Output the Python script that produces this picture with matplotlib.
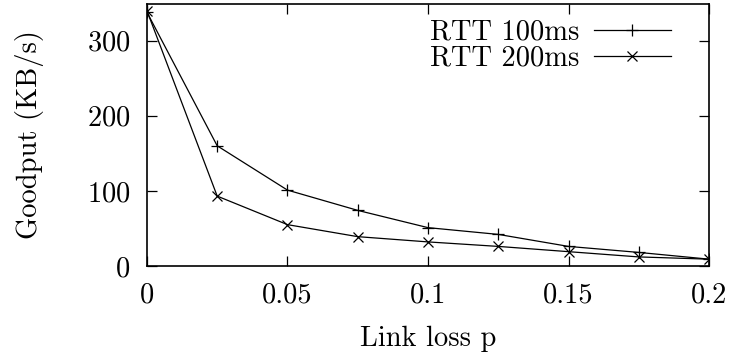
import matplotlib
matplotlib.use('Agg')
import matplotlib.pyplot as plt

# link loss probability
loss = [0, 0.025, 0.05, 0.075, 0.1, 0.125, 0.15, 0.175, 0.2]
# goodput in KB/s
rtt100 = [338, 160, 101, 74, 51, 42, 26, 18, 9]
rtt200 = [340, 93, 55, 39, 32, 26, 19, 12, 9]

xticks = [0, 0.05, 0.1, 0.15, 0.2]
xticklabels = ['0', '0.05', '0.1', '0.15', '0.2']
yticks = [0, 100, 200, 300]

plt.rcParams['font.family'] = ['cmr10', 'DejaVu Serif']
plt.rcParams['axes.formatter.use_mathtext'] = True
plt.rcParams['font.size'] = 20.5

fig = plt.figure(figsize=(7.31, 3.56), dpi=100)
ax = fig.add_axes([0.201, 0.253, 0.769, 0.736])

ax.plot(loss, rtt100, color='black', lw=0.9, marker='+', ms=9, mew=0.9, label='RTT 100ms')
ax.plot(loss, rtt200, color='black', lw=0.9, marker='x', ms=7, mew=0.9, label='RTT 200ms')

ax.set_xlim(0, 0.2)
ax.set_ylim(0, 349)
ax.set_xticks(xticks)
ax.set_xticklabels(xticklabels)
ax.set_yticks(yticks)
ax.tick_params(direction='in', length=7, width=0.9, top=True, right=True, pad=12)
for s in ax.spines.values():
    s.set_linewidth(1.2)

ax.set_xlabel('Link loss p', labelpad=12)
ax.set_ylabel('Goodput (KB/s)', labelpad=31)

ax.legend(loc='upper right', frameon=False, markerfirst=False, handlelength=2.7,
          borderaxespad=0.0, labelspacing=0.0, handletextpad=0.5, bbox_to_anchor=(0.952, 0.985))

fig.savefig('out.png', dpi=100)
